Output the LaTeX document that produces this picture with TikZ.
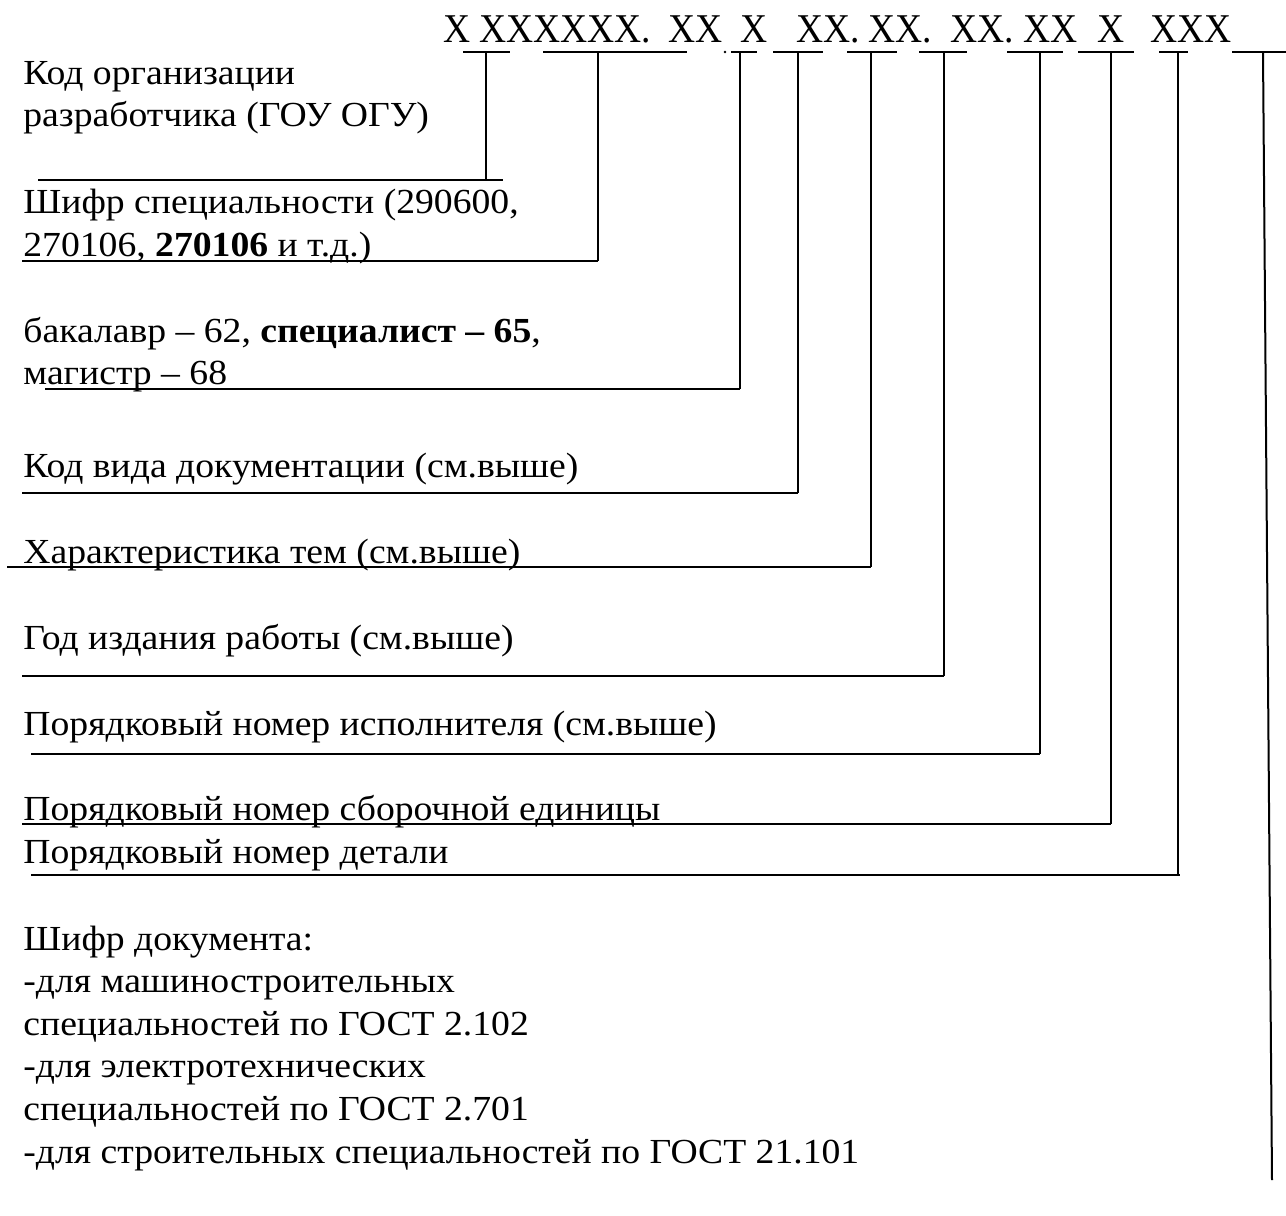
\documentclass[tikz,border=0pt]{standalone}
\usepackage{fontspec}
\setmainfont{Liberation Serif}
\newcommand{\bodytext}[1]{\scalebox{1.07}[1]{#1}}
\newcommand{\hdrtext}[1]{\scalebox{1}[1.09]{#1}}
\begin{document}
\begin{tikzpicture}[x=0.5pt,y=-0.5pt,
  txt/.style={anchor=base west, inner sep=0pt, font=\fontsize{17.6}{21}\selectfont},
  hdr/.style={anchor=base west, inner sep=0pt, font=\fontsize{18.75}{22}\selectfont},
  seg/.style={line width=1.4pt},
  lead/.style={line width=1pt}]
\useasboundingbox (0,0) rectangle (1286,1216);

% header code groups
\node[hdr] (g1) at (443,42) {\hdrtext{X}};
\node[hdr] (g2) at (479,42) {\hdrtext{XXXXXX.}};
\node[hdr] (g3) at (668,42) {\hdrtext{XX}};
\node[hdr] (g4) at (740,42) {\hdrtext{X}};
\node[hdr] (g5) at (796,42) {\hdrtext{XX.}};
\node[hdr] (g6) at (868,42) {\hdrtext{XX.}};
\node[hdr] (g7) at (950,42) {\hdrtext{XX.}};
\node[hdr] (g8) at (1023,42) {\hdrtext{XX}};
\node[hdr] (g9) at (1097,42) {\hdrtext{X}};
\node[hdr] (g10) at (1150,42) {\hdrtext{XXX}};

% texts
\node[txt] (l1) at (23,84) {\bodytext{Код организации}};
\node[txt] (l2) at (23,126) {\bodytext{разработчика (ГОУ ОГУ)}};
\node[txt] (l3) at (23,213) {\bodytext{Шифр специальности (290600,}};
\node[txt] (l4) at (23,256) {\bodytext{270106, \textbf{270106} и т.д.)}};
\node[txt] (l5) at (23,342) {\bodytext{бакалавр – 62, \textbf{специалист – 65},}};
\node[txt] (l6) at (23,384) {\bodytext{магистр – 68}};
\node[txt] (l7) at (23,477) {\bodytext{Код вида документации (см.выше)}};
\node[txt] (l8) at (23,563) {\bodytext{Характеристика тем (см.выше)}};
\node[txt] (l9) at (23,649) {\bodytext{Год издания работы (см.выше)}};
\node[txt] (l10) at (23,735) {\bodytext{Порядковый номер исполнителя (см.выше)}};
\node[txt] (l11) at (23,820) {\bodytext{Порядковый номер сборочной единицы}};
\node[txt] (l12) at (23,863) {\bodytext{Порядковый номер детали}};
\node[txt] (l13) at (23,950) {\bodytext{Шифр документа:}};
\node[txt] (l14) at (23,992) {\bodytext{-для машиностроительных}};
\node[txt] (l15) at (23,1035) {\bodytext{специальностей по ГОСТ 2.102}};
\node[txt] (l16) at (23,1077) {\bodytext{-для электротехнических}};
\node[txt] (l17) at (23,1120) {\bodytext{специальностей по ГОСТ 2.701}};
\node[txt] (l18) at (23,1163) {\bodytext{-для строительных специальностей по ГОСТ 21.101}};

% underline segments, leaders and base lines
\foreach \i/\sl/\sr/\vx/\vy/\hl/\hr in {
  1/463/510/486/180/38/503,
  2/543/687/598/261/22/598,
  3/731/757/740/389/45/740,
  4/773/823/798/493/22/798,
  5/847/897/871/567/7/871,
  6/919/967/944/676/22/944,
  7/1007/1063/1040/754/31/1040,
  8/1078/1134/1111/824/22/1111,
  9/1159/1188/1178/875/31/1180}{
  \coordinate (sa\i) at (\sl,52);
  \coordinate (sb\i) at (\sr,52);
  \coordinate (t\i) at (\vx,52);
  \coordinate (c\i) at (\vx,\vy);
  \coordinate (ha\i) at (\hl,\vy);
  \coordinate (hb\i) at (\hr,\vy);
  \draw[seg] (sa\i) -- (sb\i);
  \draw[lead] (t\i) -- (c\i);
  \draw[seg] (ha\i) -- (hb\i);
}
\coordinate (sa10) at (1232,52);
\coordinate (sb10) at (1286,52);
\coordinate (t10) at (1263,52);
\coordinate (c10) at (1272,1180);
\draw[seg] (sa10) -- (sb10);
\draw[lead] (t10) -- (c10);
\fill (725,52) circle (1.3);
\end{tikzpicture}
\end{document}
